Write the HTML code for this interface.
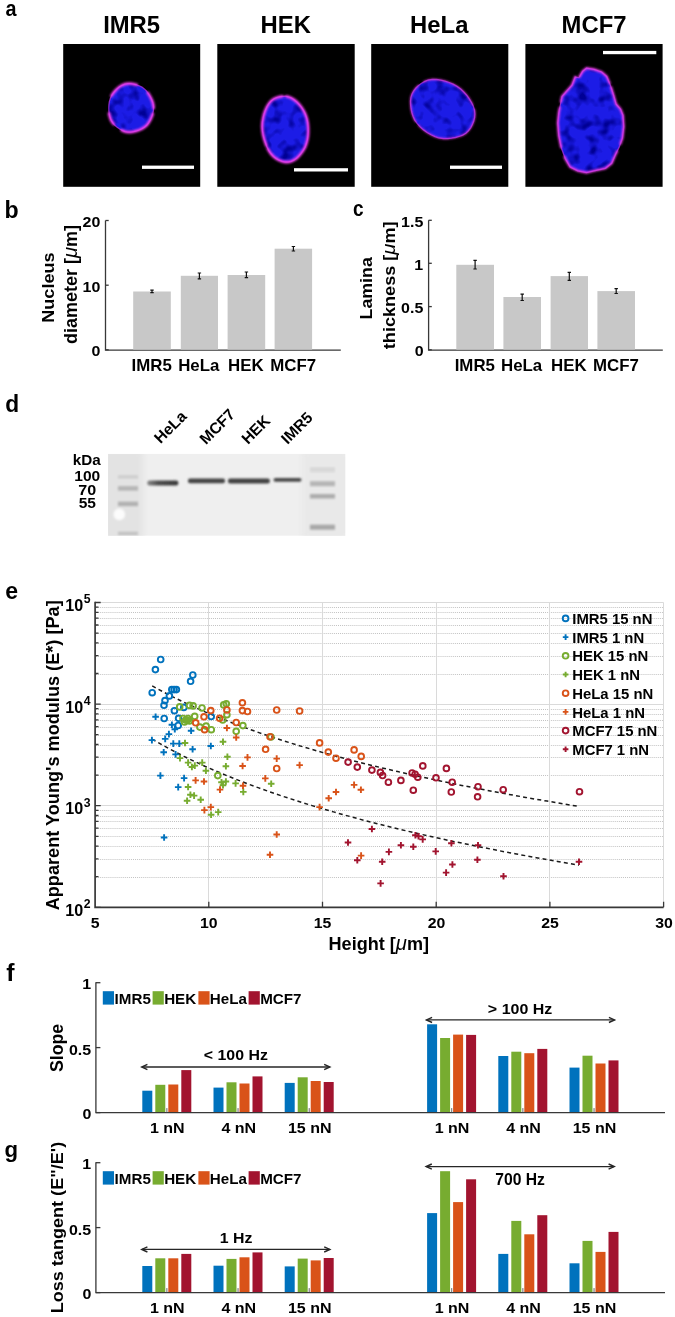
<!DOCTYPE html>
<html><head><meta charset="utf-8"><style>
html,body{margin:0;padding:0;background:#fff;}
svg{display:block;will-change:transform;}
text{font-family:"Liberation Sans",sans-serif;fill:#000;}
</style></head><body>
<svg width="675" height="1317" viewBox="0 0 675 1317">
<defs>
<filter id="soft" x="-20%" y="-20%" width="140%" height="140%"><feGaussianBlur stdDeviation="0.6"/></filter><filter id="soft2" x="-20%" y="-20%" width="140%" height="140%"><feGaussianBlur stdDeviation="0.8"/></filter>
<filter id="blur1" x="-50%" y="-200%" width="200%" height="500%"><feGaussianBlur stdDeviation="1.3"/></filter>
<filter id="blur2" x="-50%" y="-50%" width="200%" height="200%"><feGaussianBlur stdDeviation="3"/></filter>
<filter id="mottle0" x="0" y="0" width="100%" height="100%"><feTurbulence type="fractalNoise" baseFrequency="0.085" numOctaves="2" seed="3"/><feColorMatrix type="matrix" values="0 0 0 0 0.0  0 0 0 0 0.0  0 0 0 0 0.3  -3.4 0 0 0 1.8"/></filter><filter id="mottle1" x="0" y="0" width="100%" height="100%"><feTurbulence type="fractalNoise" baseFrequency="0.085" numOctaves="2" seed="10"/><feColorMatrix type="matrix" values="0 0 0 0 0.0  0 0 0 0 0.0  0 0 0 0 0.3  -3.4 0 0 0 1.8"/></filter><filter id="mottle2" x="0" y="0" width="100%" height="100%"><feTurbulence type="fractalNoise" baseFrequency="0.085" numOctaves="2" seed="17"/><feColorMatrix type="matrix" values="0 0 0 0 0.0  0 0 0 0 0.0  0 0 0 0 0.3  -3.4 0 0 0 1.8"/></filter><filter id="mottle3" x="0" y="0" width="100%" height="100%"><feTurbulence type="fractalNoise" baseFrequency="0.085" numOctaves="2" seed="24"/><feColorMatrix type="matrix" values="0 0 0 0 0.0  0 0 0 0 0.0  0 0 0 0 0.3  -3.4 0 0 0 1.8"/></filter>
</defs>
<rect width="675" height="1317" fill="#fff"/>
<text transform="translate(5.61,15.58) scale(0.893,1)" font-size="22.18" font-weight="bold">a</text>
<rect x="63.2" y="44" width="137.0" height="142.8" fill="#000"/>
<text transform="translate(103.13,33.06) scale(1.012,1)" font-size="23.57" font-weight="bold">IMR5</text>
<rect x="217.3" y="44" width="137.4" height="142.8" fill="#000"/>
<text transform="translate(260.53,33.06) scale(1.012,1)" font-size="23.57" font-weight="bold">HEK</text>
<rect x="371.2" y="44" width="137.1" height="142.8" fill="#000"/>
<text transform="translate(410.11,33.06) scale(1.012,1)" font-size="23.57" font-weight="bold">HeLa</text>
<rect x="525.4" y="44" width="137.2" height="142.8" fill="#000"/>
<text transform="translate(561.62,33.30) scale(1.012,1)" font-size="23.57" font-weight="bold">MCF7</text>
<clipPath id="nc0"><path d="M153.6,108.0 L153.3,111.2 L152.6,114.3 L151.5,117.3 L150.2,120.1 L148.6,122.8 L146.7,125.2 L144.4,127.2 L141.9,128.8 L139.2,130.0 L136.5,130.9 L133.7,131.7 L130.8,132.1 L127.9,132.1 L125.0,131.6 L122.2,130.5 L119.6,129.0 L117.1,127.3 L114.8,125.3 L112.8,122.9 L111.1,120.3 L110.0,117.3 L109.2,114.2 L108.9,111.1 L108.8,108.0 L108.9,104.9 L109.3,101.8 L110.2,98.8 L111.4,95.9 L113.1,93.3 L115.0,91.0 L117.2,88.8 L119.5,86.8 L122.1,85.3 L124.9,84.2 L127.8,83.7 L130.8,83.7 L133.7,84.1 L136.6,84.8 L139.3,85.8 L142.0,87.1 L144.4,88.9 L146.5,91.0 L148.3,93.5 L149.9,96.1 L151.3,98.8 L152.5,101.7 L153.3,104.8Z"/></clipPath>
<path d="M153.6,108.0 L153.3,111.2 L152.6,114.3 L151.5,117.3 L150.2,120.1 L148.6,122.8 L146.7,125.2 L144.4,127.2 L141.9,128.8 L139.2,130.0 L136.5,130.9 L133.7,131.7 L130.8,132.1 L127.9,132.1 L125.0,131.6 L122.2,130.5 L119.6,129.0 L117.1,127.3 L114.8,125.3 L112.8,122.9 L111.1,120.3 L110.0,117.3 L109.2,114.2 L108.9,111.1 L108.8,108.0 L108.9,104.9 L109.3,101.8 L110.2,98.8 L111.4,95.9 L113.1,93.3 L115.0,91.0 L117.2,88.8 L119.5,86.8 L122.1,85.3 L124.9,84.2 L127.8,83.7 L130.8,83.7 L133.7,84.1 L136.6,84.8 L139.3,85.8 L142.0,87.1 L144.4,88.9 L146.5,91.0 L148.3,93.5 L149.9,96.1 L151.3,98.8 L152.5,101.7 L153.3,104.8Z" fill="#1a1ae6" filter="url(#soft)"/>
<g clip-path="url(#nc0)" filter="url(#soft)"><rect x="50" y="40" width="620" height="150" filter="url(#mottle0)"/></g>
<path d="M153.6,108.0 L153.3,111.2 L152.6,114.3 L151.5,117.3 L150.2,120.1 L148.6,122.8 L146.7,125.2 L144.4,127.2 L141.9,128.8 L139.2,130.0 L136.5,130.9 L133.7,131.7 L130.8,132.1 L127.9,132.1 L125.0,131.6 L122.2,130.5 L119.6,129.0 L117.1,127.3 L114.8,125.3 L112.8,122.9 L111.1,120.3 L110.0,117.3 L109.2,114.2 L108.9,111.1 L108.8,108.0 L108.9,104.9 L109.3,101.8 L110.2,98.8 L111.4,95.9 L113.1,93.3 L115.0,91.0 L117.2,88.8 L119.5,86.8 L122.1,85.3 L124.9,84.2 L127.8,83.7 L130.8,83.7 L133.7,84.1 L136.6,84.8 L139.3,85.8 L142.0,87.1 L144.4,88.9 L146.5,91.0 L148.3,93.5 L149.9,96.1 L151.3,98.8 L152.5,101.7 L153.3,104.8Z" fill="none" stroke="#b030e0" stroke-width="1.3" opacity="0.75" filter="url(#soft)"/>
<path d="M153.6,108.0 L153.3,111.2 L152.6,114.3 L151.5,117.3 L150.2,120.1 L148.6,122.8 L146.7,125.2 L144.4,127.2 L141.9,128.8 L139.2,130.0 L136.5,130.9 L133.7,131.7 L130.8,132.1 L127.9,132.1 L125.0,131.6 L122.2,130.5 L119.6,129.0 L117.1,127.3 L114.8,125.3 L112.8,122.9 L111.1,120.3 L110.0,117.3 L109.2,114.2 L108.9,111.1 L108.8,108.0 L108.9,104.9 L109.3,101.8 L110.2,98.8 L111.4,95.9 L113.1,93.3 L115.0,91.0 L117.2,88.8 L119.5,86.8 L122.1,85.3 L124.9,84.2 L127.8,83.7 L130.8,83.7 L133.7,84.1 L136.6,84.8 L139.3,85.8 L142.0,87.1 L144.4,88.9 L146.5,91.0 L148.3,93.5 L149.9,96.1 L151.3,98.8 L152.5,101.7 L153.3,104.8Z" fill="none" stroke="#f040f0" stroke-width="2.8" stroke-dasharray="0,6,40,10,12,18,30,14,20" stroke-linecap="round" filter="url(#soft2)"/>
<clipPath id="nc1"><path d="M308.1,126.9 L308.2,131.2 L308.0,135.5 L307.4,139.7 L306.4,143.6 L305.0,147.3 L303.2,150.5 L301.1,153.4 L298.9,156.0 L296.5,158.3 L293.9,160.1 L291.1,161.4 L288.1,162.0 L285.1,162.0 L282.1,161.3 L279.1,160.2 L276.2,158.6 L273.5,156.5 L271.0,153.8 L268.8,150.6 L267.0,147.0 L265.5,143.1 L264.2,139.2 L263.2,135.1 L262.5,130.9 L262.2,126.6 L262.4,122.3 L263.1,118.2 L264.0,114.2 L265.3,110.4 L266.9,106.9 L268.8,103.7 L271.1,101.0 L273.7,99.0 L276.5,97.7 L279.4,96.8 L282.3,96.3 L285.3,96.2 L288.3,96.8 L291.2,97.9 L294.0,99.7 L296.7,101.9 L299.2,104.5 L301.5,107.4 L303.6,110.6 L305.4,114.3 L306.8,118.3 L307.7,122.6Z"/></clipPath>
<path d="M308.1,126.9 L308.2,131.2 L308.0,135.5 L307.4,139.7 L306.4,143.6 L305.0,147.3 L303.2,150.5 L301.1,153.4 L298.9,156.0 L296.5,158.3 L293.9,160.1 L291.1,161.4 L288.1,162.0 L285.1,162.0 L282.1,161.3 L279.1,160.2 L276.2,158.6 L273.5,156.5 L271.0,153.8 L268.8,150.6 L267.0,147.0 L265.5,143.1 L264.2,139.2 L263.2,135.1 L262.5,130.9 L262.2,126.6 L262.4,122.3 L263.1,118.2 L264.0,114.2 L265.3,110.4 L266.9,106.9 L268.8,103.7 L271.1,101.0 L273.7,99.0 L276.5,97.7 L279.4,96.8 L282.3,96.3 L285.3,96.2 L288.3,96.8 L291.2,97.9 L294.0,99.7 L296.7,101.9 L299.2,104.5 L301.5,107.4 L303.6,110.6 L305.4,114.3 L306.8,118.3 L307.7,122.6Z" fill="#1a1ae6" filter="url(#soft)"/>
<g clip-path="url(#nc1)" filter="url(#soft)"><rect x="50" y="40" width="620" height="150" filter="url(#mottle1)"/></g>
<path d="M308.1,126.9 L308.2,131.2 L308.0,135.5 L307.4,139.7 L306.4,143.6 L305.0,147.3 L303.2,150.5 L301.1,153.4 L298.9,156.0 L296.5,158.3 L293.9,160.1 L291.1,161.4 L288.1,162.0 L285.1,162.0 L282.1,161.3 L279.1,160.2 L276.2,158.6 L273.5,156.5 L271.0,153.8 L268.8,150.6 L267.0,147.0 L265.5,143.1 L264.2,139.2 L263.2,135.1 L262.5,130.9 L262.2,126.6 L262.4,122.3 L263.1,118.2 L264.0,114.2 L265.3,110.4 L266.9,106.9 L268.8,103.7 L271.1,101.0 L273.7,99.0 L276.5,97.7 L279.4,96.8 L282.3,96.3 L285.3,96.2 L288.3,96.8 L291.2,97.9 L294.0,99.7 L296.7,101.9 L299.2,104.5 L301.5,107.4 L303.6,110.6 L305.4,114.3 L306.8,118.3 L307.7,122.6Z" fill="none" stroke="#b030e0" stroke-width="1.3" opacity="0.75" filter="url(#soft)"/>
<path d="M308.1,126.9 L308.2,131.2 L308.0,135.5 L307.4,139.7 L306.4,143.6 L305.0,147.3 L303.2,150.5 L301.1,153.4 L298.9,156.0 L296.5,158.3 L293.9,160.1 L291.1,161.4 L288.1,162.0 L285.1,162.0 L282.1,161.3 L279.1,160.2 L276.2,158.6 L273.5,156.5 L271.0,153.8 L268.8,150.6 L267.0,147.0 L265.5,143.1 L264.2,139.2 L263.2,135.1 L262.5,130.9 L262.2,126.6 L262.4,122.3 L263.1,118.2 L264.0,114.2 L265.3,110.4 L266.9,106.9 L268.8,103.7 L271.1,101.0 L273.7,99.0 L276.5,97.7 L279.4,96.8 L282.3,96.3 L285.3,96.2 L288.3,96.8 L291.2,97.9 L294.0,99.7 L296.7,101.9 L299.2,104.5 L301.5,107.4 L303.6,110.6 L305.4,114.3 L306.8,118.3 L307.7,122.6Z" fill="none" stroke="#f040f0" stroke-width="2.8" stroke-dasharray="70,3,60,4" stroke-linecap="round" filter="url(#soft2)"/>
<clipPath id="nc2"><path d="M470.7,127.8 L468.5,130.7 L465.9,133.2 L462.7,135.1 L459.2,136.5 L455.5,137.5 L451.6,138.2 L447.6,138.7 L443.5,138.6 L439.2,138.0 L435.0,136.7 L431.0,134.8 L427.1,132.5 L423.5,129.9 L420.1,126.9 L417.2,123.7 L414.7,120.1 L413.0,116.3 L411.8,112.5 L411.0,108.7 L410.6,104.9 L410.5,101.1 L410.9,97.4 L412.0,93.9 L413.7,90.8 L415.9,88.0 L418.5,85.4 L421.5,83.2 L424.8,81.4 L428.4,80.0 L432.5,79.4 L436.7,79.5 L440.9,80.2 L445.1,81.2 L449.2,82.5 L453.2,84.2 L457.1,86.4 L460.7,89.0 L463.8,92.0 L466.7,95.2 L469.2,98.7 L471.4,102.3 L473.3,106.1 L474.5,110.0 L474.9,113.9 L474.6,117.7 L473.7,121.3 L472.4,124.6Z"/></clipPath>
<path d="M470.7,127.8 L468.5,130.7 L465.9,133.2 L462.7,135.1 L459.2,136.5 L455.5,137.5 L451.6,138.2 L447.6,138.7 L443.5,138.6 L439.2,138.0 L435.0,136.7 L431.0,134.8 L427.1,132.5 L423.5,129.9 L420.1,126.9 L417.2,123.7 L414.7,120.1 L413.0,116.3 L411.8,112.5 L411.0,108.7 L410.6,104.9 L410.5,101.1 L410.9,97.4 L412.0,93.9 L413.7,90.8 L415.9,88.0 L418.5,85.4 L421.5,83.2 L424.8,81.4 L428.4,80.0 L432.5,79.4 L436.7,79.5 L440.9,80.2 L445.1,81.2 L449.2,82.5 L453.2,84.2 L457.1,86.4 L460.7,89.0 L463.8,92.0 L466.7,95.2 L469.2,98.7 L471.4,102.3 L473.3,106.1 L474.5,110.0 L474.9,113.9 L474.6,117.7 L473.7,121.3 L472.4,124.6Z" fill="#1a1ae6" filter="url(#soft)"/>
<g clip-path="url(#nc2)" filter="url(#soft)"><rect x="50" y="40" width="620" height="150" filter="url(#mottle2)"/></g>
<path d="M470.7,127.8 L468.5,130.7 L465.9,133.2 L462.7,135.1 L459.2,136.5 L455.5,137.5 L451.6,138.2 L447.6,138.7 L443.5,138.6 L439.2,138.0 L435.0,136.7 L431.0,134.8 L427.1,132.5 L423.5,129.9 L420.1,126.9 L417.2,123.7 L414.7,120.1 L413.0,116.3 L411.8,112.5 L411.0,108.7 L410.6,104.9 L410.5,101.1 L410.9,97.4 L412.0,93.9 L413.7,90.8 L415.9,88.0 L418.5,85.4 L421.5,83.2 L424.8,81.4 L428.4,80.0 L432.5,79.4 L436.7,79.5 L440.9,80.2 L445.1,81.2 L449.2,82.5 L453.2,84.2 L457.1,86.4 L460.7,89.0 L463.8,92.0 L466.7,95.2 L469.2,98.7 L471.4,102.3 L473.3,106.1 L474.5,110.0 L474.9,113.9 L474.6,117.7 L473.7,121.3 L472.4,124.6Z" fill="none" stroke="#b030e0" stroke-width="1.3" opacity="0.75" filter="url(#soft)"/>
<path d="M470.7,127.8 L468.5,130.7 L465.9,133.2 L462.7,135.1 L459.2,136.5 L455.5,137.5 L451.6,138.2 L447.6,138.7 L443.5,138.6 L439.2,138.0 L435.0,136.7 L431.0,134.8 L427.1,132.5 L423.5,129.9 L420.1,126.9 L417.2,123.7 L414.7,120.1 L413.0,116.3 L411.8,112.5 L411.0,108.7 L410.6,104.9 L410.5,101.1 L410.9,97.4 L412.0,93.9 L413.7,90.8 L415.9,88.0 L418.5,85.4 L421.5,83.2 L424.8,81.4 L428.4,80.0 L432.5,79.4 L436.7,79.5 L440.9,80.2 L445.1,81.2 L449.2,82.5 L453.2,84.2 L457.1,86.4 L460.7,89.0 L463.8,92.0 L466.7,95.2 L469.2,98.7 L471.4,102.3 L473.3,106.1 L474.5,110.0 L474.9,113.9 L474.6,117.7 L473.7,121.3 L472.4,124.6Z" fill="none" stroke="#f040f0" stroke-width="1.2" stroke-dasharray="60,4,40,6" stroke-linecap="round" filter="url(#soft2)"/>
<clipPath id="nc3"><path d="M586.5,68.2 L594.1,69.4 L601.6,72 L606.7,76.4 L610.4,85.2 L613.6,95.3 L616.1,104.1 L620.5,109.1 L623,115.4 L623.7,126.7 L622.4,138.1 L619.3,146.9 L615.5,154.4 L611.7,163.3 L605.4,168.3 L594.1,170.8 L586.5,172.7 L577.7,170.8 L570.1,167 L565.1,158.2 L561.3,148.1 L558.8,135.6 L557.8,122.9 L558.8,112.9 L560.7,102.8 L562,96.5 L566.4,91.5 L572,85.2 L575.2,77 L579,77.6 L582.7,71.3Z"/></clipPath>
<path d="M586.5,68.2 L594.1,69.4 L601.6,72 L606.7,76.4 L610.4,85.2 L613.6,95.3 L616.1,104.1 L620.5,109.1 L623,115.4 L623.7,126.7 L622.4,138.1 L619.3,146.9 L615.5,154.4 L611.7,163.3 L605.4,168.3 L594.1,170.8 L586.5,172.7 L577.7,170.8 L570.1,167 L565.1,158.2 L561.3,148.1 L558.8,135.6 L557.8,122.9 L558.8,112.9 L560.7,102.8 L562,96.5 L566.4,91.5 L572,85.2 L575.2,77 L579,77.6 L582.7,71.3Z" fill="#1a1ae6" filter="url(#soft)"/>
<g clip-path="url(#nc3)" filter="url(#soft)"><rect x="50" y="40" width="620" height="150" filter="url(#mottle3)"/></g>
<path d="M586.5,68.2 L594.1,69.4 L601.6,72 L606.7,76.4 L610.4,85.2 L613.6,95.3 L616.1,104.1 L620.5,109.1 L623,115.4 L623.7,126.7 L622.4,138.1 L619.3,146.9 L615.5,154.4 L611.7,163.3 L605.4,168.3 L594.1,170.8 L586.5,172.7 L577.7,170.8 L570.1,167 L565.1,158.2 L561.3,148.1 L558.8,135.6 L557.8,122.9 L558.8,112.9 L560.7,102.8 L562,96.5 L566.4,91.5 L572,85.2 L575.2,77 L579,77.6 L582.7,71.3Z" fill="none" stroke="#b030e0" stroke-width="1.3" opacity="0.75" filter="url(#soft)"/>
<path d="M586.5,68.2 L594.1,69.4 L601.6,72 L606.7,76.4 L610.4,85.2 L613.6,95.3 L616.1,104.1 L620.5,109.1 L623,115.4 L623.7,126.7 L622.4,138.1 L619.3,146.9 L615.5,154.4 L611.7,163.3 L605.4,168.3 L594.1,170.8 L586.5,172.7 L577.7,170.8 L570.1,167 L565.1,158.2 L561.3,148.1 L558.8,135.6 L557.8,122.9 L558.8,112.9 L560.7,102.8 L562,96.5 L566.4,91.5 L572,85.2 L575.2,77 L579,77.6 L582.7,71.3Z" fill="none" stroke="#f040f0" stroke-width="2.2" stroke-dasharray="30,4,60,8,70,10,40,6" stroke-linecap="round" filter="url(#soft2)"/>
<rect x="142" y="165.6" width="52" height="3.3" fill="#fff"/>
<rect x="294" y="168.2" width="54" height="3.3" fill="#fff"/>
<rect x="450" y="165.6" width="52" height="3.3" fill="#fff"/>
<rect x="603" y="50.9" width="53.299999999999955" height="3.3" fill="#fff"/>
<text transform="translate(4.58,217.80)" font-size="23.15" font-weight="bold">b</text>
<text transform="translate(352.94,215.78) scale(0.856,1)" font-size="22.18" font-weight="bold">c</text>
<path d="M105.5,220.5V350.1H340.8" stroke="#383838" stroke-width="1.3" fill="none"/>
<path d="M105.5,349.8h3.2" stroke="#383838" stroke-width="1.3"/>
<text transform="translate(91.55,356.35) scale(1.051,1)" font-size="15.21" font-weight="bold">0</text>
<path d="M105.5,285.2h3.2" stroke="#383838" stroke-width="1.3"/>
<text transform="translate(82.60,291.75) scale(1.051,1)" font-size="15.21" font-weight="bold">10</text>
<path d="M105.5,220.5h3.2" stroke="#383838" stroke-width="1.3"/>
<text transform="translate(82.60,227.05) scale(1.051,1)" font-size="15.21" font-weight="bold">20</text>
<rect x="133.2" y="291.5" width="37.6" height="58.1" fill="#c8c8c8"/>
<path d="M152.0,290.2V292.6M150.3,290.2h3.4M150.3,292.6h3.4" stroke="#111" stroke-width="1.2" fill="none"/>
<text transform="translate(131.52,370.54) scale(1.063,1)" font-size="15.86" font-weight="bold">IMR5</text>
<rect x="180.8" y="275.8" width="37.2" height="73.8" fill="#c8c8c8"/>
<path d="M199.4,273.0V278.8M197.7,273.0h3.4M197.7,278.8h3.4" stroke="#111" stroke-width="1.2" fill="none"/>
<text transform="translate(178.16,370.54) scale(1.063,1)" font-size="15.86" font-weight="bold">HeLa</text>
<rect x="227.6" y="275.0" width="37.6" height="74.6" fill="#c8c8c8"/>
<path d="M246.4,272.0V277.6M244.7,272.0h3.4M244.7,277.6h3.4" stroke="#111" stroke-width="1.2" fill="none"/>
<text transform="translate(228.11,370.54) scale(1.063,1)" font-size="15.86" font-weight="bold">HEK</text>
<rect x="274.6" y="248.7" width="37.5" height="100.9" fill="#c8c8c8"/>
<path d="M293.4,246.5V251.0M291.7,246.5h3.4M291.7,251.0h3.4" stroke="#111" stroke-width="1.2" fill="none"/>
<text transform="translate(270.17,370.70) scale(1.063,1)" font-size="15.86" font-weight="bold">MCF7</text>
<path d="M428.6,220.3V350.1H662.8" stroke="#383838" stroke-width="1.3" fill="none"/>
<path d="M428.6,349.8h3.2" stroke="#383838" stroke-width="1.3"/>
<text transform="translate(414.65,356.35) scale(1.051,1)" font-size="15.21" font-weight="bold">0</text>
<path d="M428.6,306.6h3.2" stroke="#383838" stroke-width="1.3"/>
<text transform="translate(401.06,313.15) scale(1.051,1)" font-size="15.21" font-weight="bold">0.5</text>
<path d="M428.6,263.3h3.2" stroke="#383838" stroke-width="1.3"/>
<text transform="translate(414.33,269.70) scale(1.051,1)" font-size="15.21" font-weight="bold">1</text>
<path d="M428.6,220.3h3.2" stroke="#383838" stroke-width="1.3"/>
<text transform="translate(401.06,226.70) scale(1.051,1)" font-size="15.21" font-weight="bold">1.5</text>
<rect x="456.3" y="264.8" width="37.7" height="84.8" fill="#c8c8c8"/>
<path d="M475.1,260.3V269.0M473.4,260.3h3.4M473.4,269.0h3.4" stroke="#111" stroke-width="1.2" fill="none"/>
<text transform="translate(454.67,370.54) scale(1.063,1)" font-size="15.86" font-weight="bold">IMR5</text>
<rect x="503.4" y="297.0" width="37.6" height="52.6" fill="#c8c8c8"/>
<path d="M522.2,294.2V300.5M520.5,294.2h3.4M520.5,300.5h3.4" stroke="#111" stroke-width="1.2" fill="none"/>
<text transform="translate(500.96,370.54) scale(1.063,1)" font-size="15.86" font-weight="bold">HeLa</text>
<rect x="550.6" y="276.1" width="37.4" height="73.5" fill="#c8c8c8"/>
<path d="M569.3,272.3V280.3M567.6,272.3h3.4M567.6,280.3h3.4" stroke="#111" stroke-width="1.2" fill="none"/>
<text transform="translate(551.01,370.54) scale(1.063,1)" font-size="15.86" font-weight="bold">HEK</text>
<rect x="597.4" y="291.1" width="37.6" height="58.5" fill="#c8c8c8"/>
<path d="M616.2,288.6V293.5M614.5,288.6h3.4M614.5,293.5h3.4" stroke="#111" stroke-width="1.2" fill="none"/>
<text transform="translate(593.02,370.70) scale(1.063,1)" font-size="15.86" font-weight="bold">MCF7</text>
<text transform="translate(54.03,322.87) rotate(-90) scale(1.074,1)" font-size="16.89" font-weight="bold">Nucleus</text>
<text transform="translate(77.21,344.02) rotate(-90) scale(1.026,1)" font-size="17.55" font-weight="bold">diameter [<tspan font-style="italic" font-weight="normal" font-size="1.12em">&#956;</tspan>m]</text>
<text transform="translate(372.43,319.45) rotate(-90) scale(1.070,1)" font-size="16.62" font-weight="bold">Lamina</text>
<text transform="translate(395.16,349.18) rotate(-90) scale(1.106,1)" font-size="16.38" font-weight="bold">thickness [<tspan font-style="italic" font-weight="normal" font-size="1.12em">&#956;</tspan>m]</text>
<text transform="translate(5.29,411.80) scale(0.973,1)" font-size="23.42" font-weight="bold">d</text>
<rect x="108.1" y="453.9" width="237.1" height="81.8" fill="#efefef"/>
<g clip-path="url(#blotclip)">
<rect x="100" y="450" width="43" height="90" fill="#e3e3e3" filter="url(#blur2)"/>
<rect x="302" y="450" width="48" height="90" fill="#e9e9e9" filter="url(#blur2)"/>
<rect x="118" y="475.4" width="20" height="3" fill="#000" opacity="0.1" filter="url(#blur1)"/>
<rect x="118" y="486.15" width="20" height="4.5" fill="#000" opacity="0.2" filter="url(#blur1)"/>
<rect x="118" y="501.65" width="20" height="4.5" fill="#000" opacity="0.22" filter="url(#blur1)"/>
<rect x="118" y="531.75" width="20" height="3.5" fill="#000" opacity="0.14" filter="url(#blur1)"/>
<circle cx="119.3" cy="514.4" r="5.8" fill="#fcfcfc" filter="url(#blur1)"/>
<rect x="310" y="467.6" width="25" height="2.0" fill="#000" opacity="0.1" filter="url(#blur1)"/>
<rect x="310" y="470.2" width="25" height="2.0" fill="#000" opacity="0.08" filter="url(#blur1)"/>
<rect x="310" y="481.2" width="25" height="5" fill="#000" opacity="0.22" filter="url(#blur1)"/>
<rect x="310" y="494.05" width="25" height="4.5" fill="#000" opacity="0.26" filter="url(#blur1)"/>
<rect x="310" y="524.7" width="25" height="5" fill="#000" opacity="0.28" filter="url(#blur1)"/>
<linearGradient id="bandg" x1="0" x2="1" y1="0" y2="0"><stop offset="0" stop-color="#888"/><stop offset="0.35" stop-color="#4a4a4a"/><stop offset="1" stop-color="#3a3a3a"/></linearGradient>
<rect x="147.3" y="480.4" width="31.0" height="5.0" rx="2" fill="url(#bandg)" filter="url(#blur1)"/>
<rect x="188.0" y="478.6" width="37.0" height="4.6" rx="2" fill="#444" filter="url(#blur1)"/>
<rect x="228.0" y="478.6" width="41.8" height="4.8" rx="2" fill="#424242" filter="url(#blur1)"/>
<rect x="273.5" y="477.9" width="28.0" height="3.8" rx="2" fill="#4a4a4a" filter="url(#blur1)"/>
</g>
<clipPath id="blotclip"><rect x="108.1" y="453.9" width="237.1" height="81.8"/></clipPath>
<text transform="translate(72.83,465.35) scale(0.990,1)" font-size="15.41" font-weight="bold">kDa</text>
<text transform="translate(74.27,481.25) scale(1.003,1)" font-size="15.49" font-weight="bold">100</text>
<text transform="translate(78.26,494.55) scale(1.080,1)" font-size="14.93" font-weight="bold">70</text>
<text transform="translate(78.73,508.25) scale(1.045,1)" font-size="14.86" font-weight="bold">55</text>
<text transform="translate(160.59,444.26) rotate(-45)" font-size="15.6" font-weight="bold">HeLa</text>
<text transform="translate(205.94,445.30) rotate(-45)" font-size="15.6" font-weight="bold">MCF7</text>
<text transform="translate(247.89,444.95) rotate(-45)" font-size="15.6" font-weight="bold">HEK</text>
<text transform="translate(287.41,444.93) rotate(-45)" font-size="15.6" font-weight="bold">IMR5</text>
<text transform="translate(5.28,598.87) scale(0.986,1)" font-size="23.45" font-weight="bold">e</text>
<path d="M96.1,877.5H663.6M96.1,859.5H663.6M96.1,846.5H663.6M96.1,836.5H663.6M96.1,828.5H663.6M96.1,821.5H663.6M96.1,816.5H663.6M96.1,810.5H663.6M96.1,775.5H663.6M96.1,757.5H663.6M96.1,745.5H663.6M96.1,735.5H663.6M96.1,727.5H663.6M96.1,720.5H663.6M96.1,714.5H663.6M96.1,709.5H663.6M96.1,674.5H663.6M96.1,656.5H663.6M96.1,643.5H663.6M96.1,633.5H663.6M96.1,625.5H663.6M96.1,618.5H663.6M96.1,612.5H663.6M96.1,607.5H663.6" stroke="#c2c2c2" stroke-width="1" stroke-dasharray="1,1.05" fill="none"/>
<path d="M208.5,602.5V907.3M322.5,602.5V907.3M436.5,602.5V907.3M549.5,602.5V907.3M663.5,602.5V907.3M95.1,805.5H663.6M95.1,704.5H663.6M95.1,602.5H663.6" stroke="#dadada" stroke-width="1" fill="none"/>
<path d="M95.1,601.7V907.3H663.6" stroke="#383838" stroke-width="1.7" fill="none"/>
<path d="M95.1,907.3h5.6M95.1,876.7h3.4M95.1,858.8h3.4M95.1,846.1h3.4M95.1,836.3h3.4M95.1,828.2h3.4M95.1,821.4h3.4M95.1,815.5h3.4M95.1,810.3h3.4M95.1,805.7h5.6M95.1,775.1h3.4M95.1,757.2h3.4M95.1,744.5h3.4M95.1,734.7h3.4M95.1,726.6h3.4M95.1,719.8h3.4M95.1,713.9h3.4M95.1,708.7h3.4M95.1,704.1h5.6M95.1,673.5h3.4M95.1,655.6h3.4M95.1,642.9h3.4M95.1,633.1h3.4M95.1,625.0h3.4M95.1,618.2h3.4M95.1,612.3h3.4M95.1,607.1h3.4M95.1,602.5h5.6M208.8,907.3v-5.6M322.5,907.3v-5.6M436.2,907.3v-5.6M549.9,907.3v-5.6M663.6,907.3v-5.6" stroke="#383838" stroke-width="1.3" fill="none"/>
<text transform="translate(65.23,916.09) scale(0.996,1)" font-size="16.20" font-weight="bold">10</text>
<text transform="translate(83.63,908.23) scale(0.951,1)" font-size="12.90" font-weight="bold">2</text>
<text transform="translate(65.23,814.49) scale(0.996,1)" font-size="16.20" font-weight="bold">10</text>
<text transform="translate(83.75,806.63) scale(0.951,1)" font-size="12.90" font-weight="bold">3</text>
<text transform="translate(65.23,712.89) scale(0.996,1)" font-size="16.20" font-weight="bold">10</text>
<text transform="translate(83.75,704.90) scale(0.951,1)" font-size="12.90" font-weight="bold">4</text>
<text transform="translate(65.23,611.29) scale(0.996,1)" font-size="16.20" font-weight="bold">10</text>
<text transform="translate(83.63,603.30) scale(0.951,1)" font-size="12.90" font-weight="bold">5</text>
<text transform="translate(90.86,927.91) scale(1.092,1)" font-size="14.51" font-weight="bold">5</text>
<text transform="translate(200.05,928.05) scale(1.092,1)" font-size="14.51" font-weight="bold">10</text>
<text transform="translate(313.67,927.91) scale(1.092,1)" font-size="14.51" font-weight="bold">15</text>
<text transform="translate(427.69,928.05) scale(1.092,1)" font-size="14.51" font-weight="bold">20</text>
<text transform="translate(541.31,928.05) scale(1.092,1)" font-size="14.51" font-weight="bold">25</text>
<text transform="translate(655.17,928.05) scale(1.092,1)" font-size="14.51" font-weight="bold">30</text>
<text transform="translate(328.53,950.31) scale(1.031,1)" font-size="17.55" font-weight="bold">Height [<tspan font-style="italic" font-weight="normal" font-size="1.12em">&#956;</tspan>m]</text>
<text transform="translate(59.41,910.34) rotate(-90) scale(1.034,1)" font-size="17.55" font-weight="bold">Apparent Young's modulus (E*) [Pa]</text>
<path d="M152.2,685.9 L162.9,691.7 L173.5,697.2 L184.2,702.4 L194.9,707.4 L205.6,712.1 L216.2,716.5 L226.9,720.8 L237.6,724.9 L248.3,728.8 L258.9,732.6 L269.6,736.2 L280.3,739.7 L290.9,743.1 L301.6,746.4 L312.3,749.5 L323.0,752.6 L333.6,755.5 L344.3,758.4 L355.0,761.2 L365.6,763.9 L376.3,766.5 L387.0,769.1 L397.7,771.6 L408.3,774.0 L419.0,776.4 L429.7,778.7 L440.4,781.0 L451.0,783.2 L461.7,785.4 L472.4,787.5 L483.0,789.5 L493.7,791.6 L504.4,793.6 L515.1,795.5 L525.7,797.4 L536.4,799.3 L547.1,801.1 L557.8,802.9 L568.4,804.7 L579.1,806.4" stroke="#1a1a1a" stroke-width="1.5" stroke-dasharray="4,3.2" fill="none"/>
<path d="M152.0,739.1 L162.7,745.2 L173.3,750.9 L184.0,756.4 L194.7,761.5 L205.4,766.5 L216.1,771.1 L226.7,775.6 L237.4,779.9 L248.1,784.0 L258.8,787.9 L269.4,791.7 L280.1,795.4 L290.8,798.9 L301.4,802.3 L312.1,805.6 L322.8,808.8 L333.5,811.9 L344.1,814.9 L354.8,817.8 L365.5,820.7 L376.2,823.4 L386.9,826.1 L397.5,828.7 L408.2,831.3 L418.9,833.8 L429.6,836.2 L440.2,838.6 L450.9,840.9 L461.6,843.1 L472.2,845.3 L482.9,847.5 L493.6,849.6 L504.3,851.7 L515.0,853.7 L525.6,855.7 L536.3,857.7 L547.0,859.6 L557.6,861.5 L568.3,863.3 L579.0,865.1" stroke="#1a1a1a" stroke-width="1.5" stroke-dasharray="4,3.2" fill="none"/>
<g fill="none" stroke="#0072BD" stroke-width="1.9"><circle cx="160.7" cy="659.5" r="2.85"/><circle cx="155.4" cy="669.6" r="2.85"/><circle cx="192.8" cy="675.0" r="2.85"/><circle cx="190.6" cy="681.3" r="2.85"/><circle cx="152.2" cy="692.7" r="2.85"/><circle cx="171.8" cy="689.6" r="2.85"/><circle cx="174.1" cy="689.6" r="2.85"/><circle cx="176.4" cy="689.6" r="2.85"/><circle cx="169.4" cy="695.9" r="2.85"/><circle cx="165.0" cy="700.6" r="2.85"/><circle cx="164.0" cy="705.3" r="2.85"/><circle cx="174.4" cy="710.7" r="2.85"/><circle cx="164.2" cy="718.5" r="2.85"/><circle cx="178.6" cy="718.3" r="2.85"/><circle cx="178.2" cy="725.5" r="2.85"/><circle cx="211.2" cy="716.5" r="2.85"/><circle cx="183.8" cy="707.4" r="2.85"/></g>
<path d="M152.3,716.7h6.6M155.6,713.4v6.6M168.6,724.8h6.6M171.9,721.5v6.6M171.5,729.3h6.6M174.8,726.0v6.6M187.8,730.7h6.6M191.1,727.4v6.6M165.6,734.1h6.6M168.9,730.8v6.6M161.9,738.9h6.6M165.2,735.6v6.6M148.6,740.1h6.6M151.9,736.8v6.6M170.0,743.6h6.6M173.3,740.3v6.6M176.0,743.6h6.6M179.3,740.3v6.6M189.3,749.3h6.6M192.6,746.0v6.6M207.5,746.0h6.6M210.8,742.7v6.6M160.4,752.2h6.6M163.7,748.9v6.6M172.3,754.4h6.6M175.6,751.1v6.6M157.1,775.6h6.6M160.4,772.3v6.6M180.8,778.1h6.6M184.1,774.8v6.6M174.9,787.1h6.6M178.2,783.8v6.6M160.8,837.5h6.6M164.1,834.2v6.6" stroke="#0072BD" stroke-width="1.9" fill="none"/>
<g fill="none" stroke="#77AC30" stroke-width="1.9"><circle cx="179.7" cy="706.9" r="2.85"/><circle cx="189.5" cy="705.4" r="2.85"/><circle cx="193.1" cy="705.9" r="2.85"/><circle cx="202" cy="708" r="2.85"/><circle cx="194.7" cy="716.3" r="2.85"/><circle cx="183" cy="718.5" r="2.85"/><circle cx="186" cy="720" r="2.85"/><circle cx="189.5" cy="721" r="2.85"/><circle cx="184.5" cy="722" r="2.85"/><circle cx="188" cy="718.5" r="2.85"/><circle cx="199.9" cy="727.1" r="2.85"/><circle cx="206.1" cy="726.1" r="2.85"/><circle cx="211.3" cy="729.7" r="2.85"/><circle cx="223.7" cy="704.9" r="2.85"/><circle cx="226.3" cy="703.8" r="2.85"/><circle cx="226.9" cy="714.7" r="2.85"/><circle cx="222.7" cy="719.9" r="2.85"/><circle cx="236.2" cy="731.3" r="2.85"/><circle cx="242.9" cy="725.6" r="2.85"/><circle cx="271" cy="737" r="2.85"/><circle cx="217.8" cy="775.6" r="2.85"/></g>
<ellipse cx="186.6" cy="720.2" rx="5.2" ry="3.6" fill="#77AC30"/>
<path d="M181.7,743.0h6.6M185.0,739.7v6.6M219.7,741.8h6.6M223,738.5v6.6M176.7,758.1h6.6M180,754.8v6.6M224.1,756.7h6.6M227.4,753.4v6.6M184.8,762.6h6.6M188.1,759.3v6.6M198.9,762.6h6.6M202.2,759.3v6.6M188.6,767h6.6M191.9,763.7v6.6M191.5,765.6h6.6M194.8,762.3v6.6M222.6,766.3h6.6M225.9,763.0v6.6M202.6,770.7h6.6M205.9,767.4v6.6M184.8,787h6.6M188.1,783.7v6.6M187.1,794.8h6.6M190.4,791.5v6.6M190.8,795.6h6.6M194.1,792.3v6.6M183.8,800.7h6.6M187.1,797.4v6.6M197.4,799.7h6.6M200.7,796.4v6.6M218.2,782.2h6.6M221.5,778.9v6.6M222.6,781.5h6.6M225.9,778.2v6.6M219.7,785.2h6.6M223,781.9v6.6M232.3,783.4h6.6M235.6,780.1v6.6M207.8,814.8h6.6M211.1,811.5v6.6M214.9,812.1h6.6M218.2,808.8v6.6M240.0,791.9h6.6M243.3,788.6v6.6M267.9,783.7h6.6M271.2,780.4v6.6" stroke="#77AC30" stroke-width="1.9" fill="none"/>
<g fill="none" stroke="#D95319" stroke-width="1.9"><circle cx="210.8" cy="710.6" r="2.85"/><circle cx="204" cy="716.8" r="2.85"/><circle cx="195.7" cy="722.8" r="2.85"/><circle cx="204.6" cy="729.7" r="2.85"/><circle cx="226.9" cy="710" r="2.85"/><circle cx="219.6" cy="718.3" r="2.85"/><circle cx="236.2" cy="722.5" r="2.85"/><circle cx="242.4" cy="702.8" r="2.85"/><circle cx="242.4" cy="710.6" r="2.85"/><circle cx="247.5" cy="711.5" r="2.85"/><circle cx="276.7" cy="710" r="2.85"/><circle cx="299.6" cy="711" r="2.85"/><circle cx="270" cy="736.7" r="2.85"/><circle cx="265.6" cy="749.3" r="2.85"/><circle cx="276.7" cy="768.5" r="2.85"/><circle cx="319.6" cy="742.9" r="2.85"/><circle cx="328.3" cy="752.1" r="2.85"/><circle cx="336" cy="758.2" r="2.85"/><circle cx="354.1" cy="749.9" r="2.85"/><circle cx="361.2" cy="756.4" r="2.85"/></g>
<path d="M223.6,728h6.6M226.9,724.7v6.6M232.9,737.5h6.6M236.2,734.2v6.6M244.2,757.4h6.6M247.5,754.1v6.6M239.3,766h6.6M242.6,762.7v6.6M273.4,758.6h6.6M276.7,755.3v6.6M296.3,765.1h6.6M299.6,761.8v6.6M262.0,778.4h6.6M265.3,775.1v6.6M239.7,785.8h6.6M243,782.5v6.6M192.3,780.4h6.6M195.6,777.1v6.6M200.7,781.5h6.6M204,778.2v6.6M216.7,789.6h6.6M220,786.3v6.6M201.1,810.1h6.6M204.4,806.8v6.6M207.5,807.1h6.6M210.8,803.8v6.6M316.3,807.1h6.6M319.6,803.8v6.6M325.4,798.2h6.6M328.7,794.9v6.6M273.4,834.5h6.6M276.7,831.2v6.6M266.7,854.8h6.6M270,851.5v6.6M350.8,784.9h6.6M354.1,781.6v6.6M357.6,789.7h6.6M360.9,786.4v6.6M332.7,792h6.6M336,788.7v6.6M357.8,855.6h6.6M361.1,852.3v6.6" stroke="#D95319" stroke-width="1.9" fill="none"/>
<g fill="none" stroke="#A2142F" stroke-width="1.9"><circle cx="348.1" cy="762.1" r="2.85"/><circle cx="357.3" cy="767.1" r="2.85"/><circle cx="371.9" cy="770.1" r="2.85"/><circle cx="380.4" cy="772.4" r="2.85"/><circle cx="382.6" cy="775.5" r="2.85"/><circle cx="388.4" cy="782.2" r="2.85"/><circle cx="400.9" cy="780.4" r="2.85"/><circle cx="412.1" cy="773" r="2.85"/><circle cx="415.1" cy="774.2" r="2.85"/><circle cx="417.8" cy="777.2" r="2.85"/><circle cx="422.8" cy="765.9" r="2.85"/><circle cx="413.3" cy="790.2" r="2.85"/><circle cx="436" cy="777.8" r="2.85"/><circle cx="446.4" cy="768.4" r="2.85"/><circle cx="452.2" cy="782.2" r="2.85"/><circle cx="451.3" cy="792" r="2.85"/><circle cx="478" cy="786.7" r="2.85"/><circle cx="477.6" cy="796.8" r="2.85"/><circle cx="503.2" cy="789.7" r="2.85"/><circle cx="579.5" cy="791.7" r="2.85"/></g>
<path d="M368.6,829h6.6M371.9,825.7v6.6M344.7,842.5h6.6M348,839.2v6.6M354.0,860.2h6.6M357.3,856.9v6.6M378.9,861.8h6.6M382.2,858.5v6.6M385.6,851.9h6.6M388.9,848.6v6.6M397.6,845.2h6.6M400.9,841.9v6.6M410.0,846.7h6.6M413.3,843.4v6.6M412.1,835.3h6.6M415.4,832.0v6.6M415.2,836.3h6.6M418.5,833.0v6.6M419.4,839.4h6.6M422.7,836.1v6.6M432.4,851.4h6.6M435.7,848.1v6.6M448.1,843.3h6.6M451.4,840.0v6.6M449.1,864.5h6.6M452.4,861.2v6.6M442.8,872.6h6.6M446.1,869.3v6.6M377.3,883.4h6.6M380.6,880.1v6.6M474.7,845.2h6.6M478,841.9v6.6M474.1,859.7h6.6M477.4,856.4v6.6M500.2,876.3h6.6M503.5,873.0v6.6M575.7,861.8h6.6M579,858.5v6.6" stroke="#A2142F" stroke-width="1.9" fill="none"/>
<circle cx="565.6" cy="618.4" r="2.85" fill="none" stroke="#0072BD" stroke-width="1.9"/>
<text transform="translate(572.26,624.06) scale(1.053,1)" font-size="14.14" font-weight="bold">IMR5 15 nN</text>
<path d="M562.8,637.1h5.6M565.6,634.3v5.6" stroke="#0072BD" stroke-width="1.9"/>
<text transform="translate(572.26,642.76) scale(1.053,1)" font-size="14.14" font-weight="bold">IMR5 1 nN</text>
<circle cx="565.6" cy="655.8" r="2.85" fill="none" stroke="#77AC30" stroke-width="1.9"/>
<text transform="translate(572.26,661.46) scale(1.053,1)" font-size="14.14" font-weight="bold">HEK 15 nN</text>
<path d="M562.8,674.5h5.6M565.6,671.7v5.6" stroke="#77AC30" stroke-width="1.9"/>
<text transform="translate(572.26,680.16) scale(1.053,1)" font-size="14.14" font-weight="bold">HEK 1 nN</text>
<circle cx="565.6" cy="693.2" r="2.85" fill="none" stroke="#D95319" stroke-width="1.9"/>
<text transform="translate(572.26,698.86) scale(1.053,1)" font-size="14.14" font-weight="bold">HeLa 15 nN</text>
<path d="M562.8,711.9h5.6M565.6,709.1v5.6" stroke="#D95319" stroke-width="1.9"/>
<text transform="translate(572.26,717.56) scale(1.053,1)" font-size="14.14" font-weight="bold">HeLa 1 nN</text>
<circle cx="565.6" cy="730.6" r="2.85" fill="none" stroke="#A2142F" stroke-width="1.9"/>
<text transform="translate(572.26,736.40) scale(1.053,1)" font-size="14.14" font-weight="bold">MCF7 15 nN</text>
<path d="M562.8,749.3h5.6M565.6,746.5v5.6" stroke="#A2142F" stroke-width="1.9"/>
<text transform="translate(572.26,755.10) scale(1.053,1)" font-size="14.14" font-weight="bold">MCF7 1 nN</text>
<text transform="translate(6.20,980.70) scale(1.060,1)" font-size="23.42" font-weight="bold">f</text>
<path d="M95.9,982.2V1112.6H665" stroke="#383838" stroke-width="1.3" fill="none"/>
<path d="M95.9,1112.6h4.5" stroke="#383838" stroke-width="1.3"/>
<text transform="translate(82.55,1119.45) scale(1.051,1)" font-size="15.21" font-weight="bold">0</text>
<path d="M95.9,1047.6h4.5" stroke="#383838" stroke-width="1.3"/>
<text transform="translate(68.96,1054.50) scale(1.051,1)" font-size="15.21" font-weight="bold">0.5</text>
<path d="M95.9,982.7h4.5" stroke="#383838" stroke-width="1.3"/>
<text transform="translate(82.23,989.40) scale(1.051,1)" font-size="15.21" font-weight="bold">1</text>
<rect x="142.3" y="1090.7" width="10" height="21.3" fill="#0072BD"/>
<rect x="155.3" y="1084.8" width="10" height="27.2" fill="#77AC30"/>
<rect x="168.3" y="1084.5" width="10" height="27.5" fill="#D95319"/>
<rect x="181.3" y="1070.1" width="10" height="41.9" fill="#A2142F"/>
<rect x="166.2" y="1108.1" width="1.3" height="4" fill="#8a8a8a"/>
<text transform="translate(149.89,1132.65) scale(1.078,1)" font-size="14.86" font-weight="bold">1 nN</text>
<rect x="213.5" y="1087.6" width="10" height="24.4" fill="#0072BD"/>
<rect x="226.5" y="1082.3" width="10" height="29.7" fill="#77AC30"/>
<rect x="239.5" y="1083.5" width="10" height="28.5" fill="#D95319"/>
<rect x="252.5" y="1076.4" width="10" height="35.6" fill="#A2142F"/>
<rect x="237.4" y="1108.1" width="1.3" height="4" fill="#8a8a8a"/>
<text transform="translate(221.42,1132.65) scale(1.078,1)" font-size="14.86" font-weight="bold">4 nN</text>
<rect x="284.7" y="1082.9" width="10" height="29.1" fill="#0072BD"/>
<rect x="297.7" y="1077.3" width="10" height="34.7" fill="#77AC30"/>
<rect x="310.7" y="1081.0" width="10" height="31.0" fill="#D95319"/>
<rect x="323.7" y="1082.0" width="10" height="30.0" fill="#A2142F"/>
<rect x="308.6" y="1108.1" width="1.3" height="4" fill="#8a8a8a"/>
<text transform="translate(287.89,1132.65) scale(1.078,1)" font-size="14.86" font-weight="bold">15 nN</text>
<rect x="427.1" y="1024.3" width="10" height="87.7" fill="#0072BD"/>
<rect x="440.1" y="1038.0" width="10" height="74.0" fill="#77AC30"/>
<rect x="453.1" y="1034.6" width="10" height="77.4" fill="#D95319"/>
<rect x="466.1" y="1034.9" width="10" height="77.1" fill="#A2142F"/>
<rect x="451.0" y="1108.1" width="1.3" height="4" fill="#8a8a8a"/>
<text transform="translate(434.69,1132.65) scale(1.078,1)" font-size="14.86" font-weight="bold">1 nN</text>
<rect x="498.3" y="1056.0" width="10" height="56.0" fill="#0072BD"/>
<rect x="511.3" y="1051.7" width="10" height="60.3" fill="#77AC30"/>
<rect x="524.3" y="1053.2" width="10" height="58.8" fill="#D95319"/>
<rect x="537.3" y="1048.9" width="10" height="63.1" fill="#A2142F"/>
<rect x="522.2" y="1108.1" width="1.3" height="4" fill="#8a8a8a"/>
<text transform="translate(506.22,1132.65) scale(1.078,1)" font-size="14.86" font-weight="bold">4 nN</text>
<rect x="569.5" y="1067.6" width="10" height="44.4" fill="#0072BD"/>
<rect x="582.5" y="1055.7" width="10" height="56.3" fill="#77AC30"/>
<rect x="595.5" y="1063.5" width="10" height="48.5" fill="#D95319"/>
<rect x="608.5" y="1060.4" width="10" height="51.6" fill="#A2142F"/>
<rect x="593.4" y="1108.1" width="1.3" height="4" fill="#8a8a8a"/>
<text transform="translate(572.69,1132.65) scale(1.078,1)" font-size="14.86" font-weight="bold">15 nN</text>
<rect x="102.8" y="991.2" width="11.2" height="13.4" fill="#0072BD"/>
<text transform="translate(114.54,1003.84) scale(0.976,1)" font-size="15.57" font-weight="bold">IMR5</text>
<rect x="152.6" y="991.2" width="11.2" height="13.4" fill="#77AC30"/>
<text transform="translate(164.14,1003.84) scale(0.976,1)" font-size="15.57" font-weight="bold">HEK</text>
<rect x="198.4" y="991.2" width="11.2" height="13.4" fill="#D95319"/>
<text transform="translate(209.84,1003.84) scale(0.976,1)" font-size="15.57" font-weight="bold">HeLa</text>
<rect x="248.6" y="991.2" width="11.2" height="13.4" fill="#A2142F"/>
<text transform="translate(260.14,1004.00) scale(0.976,1)" font-size="15.57" font-weight="bold">MCF7</text>
<path d="M141.9,1067.0H329.7" stroke="#262626" stroke-width="1.4"/>
<path d="M147.4,1064.4L141.70000000000002,1067.0L147.4,1069.6M324.2,1064.4L329.9,1067.0L324.2,1069.6" stroke="#262626" stroke-width="1.4" fill="none"/>
<text transform="translate(203.86,1059.75) scale(1.055,1)" font-size="15.07" font-weight="bold">&lt; 100 Hz</text>
<path d="M426.6,1019.9H614.4" stroke="#262626" stroke-width="1.4"/>
<path d="M432.1,1017.3L426.40000000000003,1019.9L432.1,1022.5M608.9,1017.3L614.6,1019.9L608.9,1022.5" stroke="#262626" stroke-width="1.4" fill="none"/>
<text transform="translate(487.86,1013.55) scale(1.033,1)" font-size="15.49" font-weight="bold">&gt; 100 Hz</text>
<text transform="translate(62.71,1072.03) rotate(-90) scale(1.011,1)" font-size="17.55" font-weight="bold">Slope</text>
<text transform="translate(4.41,1156.98) scale(1.009,1)" font-size="22.00" font-weight="bold">g</text>
<path d="M95.9,1162.2V1292.6H665" stroke="#383838" stroke-width="1.3" fill="none"/>
<path d="M95.9,1292.6h4.5" stroke="#383838" stroke-width="1.3"/>
<text transform="translate(82.55,1299.45) scale(1.051,1)" font-size="15.21" font-weight="bold">0</text>
<path d="M95.9,1227.6h4.5" stroke="#383838" stroke-width="1.3"/>
<text transform="translate(68.96,1234.50) scale(1.051,1)" font-size="15.21" font-weight="bold">0.5</text>
<path d="M95.9,1162.7h4.5" stroke="#383838" stroke-width="1.3"/>
<text transform="translate(82.23,1169.40) scale(1.051,1)" font-size="15.21" font-weight="bold">1</text>
<rect x="142.3" y="1266.0" width="10" height="26.0" fill="#0072BD"/>
<rect x="155.3" y="1258.3" width="10" height="33.7" fill="#77AC30"/>
<rect x="168.3" y="1258.3" width="10" height="33.7" fill="#D95319"/>
<rect x="181.3" y="1253.9" width="10" height="38.1" fill="#A2142F"/>
<rect x="166.2" y="1288.1" width="1.3" height="4" fill="#8a8a8a"/>
<text transform="translate(149.89,1312.65) scale(1.078,1)" font-size="14.86" font-weight="bold">1 nN</text>
<rect x="213.5" y="1265.7" width="10" height="26.3" fill="#0072BD"/>
<rect x="226.5" y="1258.9" width="10" height="33.1" fill="#77AC30"/>
<rect x="239.5" y="1257.3" width="10" height="34.7" fill="#D95319"/>
<rect x="252.5" y="1252.4" width="10" height="39.6" fill="#A2142F"/>
<rect x="237.4" y="1288.1" width="1.3" height="4" fill="#8a8a8a"/>
<text transform="translate(221.42,1312.65) scale(1.078,1)" font-size="14.86" font-weight="bold">4 nN</text>
<rect x="284.7" y="1266.4" width="10" height="25.6" fill="#0072BD"/>
<rect x="297.7" y="1258.6" width="10" height="33.4" fill="#77AC30"/>
<rect x="310.7" y="1260.4" width="10" height="31.6" fill="#D95319"/>
<rect x="323.7" y="1258.0" width="10" height="34.0" fill="#A2142F"/>
<rect x="308.6" y="1288.1" width="1.3" height="4" fill="#8a8a8a"/>
<text transform="translate(287.89,1312.65) scale(1.078,1)" font-size="14.86" font-weight="bold">15 nN</text>
<rect x="427.1" y="1213.1" width="10" height="78.9" fill="#0072BD"/>
<rect x="440.1" y="1171.2" width="10" height="120.8" fill="#77AC30"/>
<rect x="453.1" y="1202.1" width="10" height="89.9" fill="#D95319"/>
<rect x="466.1" y="1179.3" width="10" height="112.7" fill="#A2142F"/>
<rect x="451.0" y="1288.1" width="1.3" height="4" fill="#8a8a8a"/>
<text transform="translate(434.69,1312.65) scale(1.078,1)" font-size="14.86" font-weight="bold">1 nN</text>
<rect x="498.3" y="1253.9" width="10" height="38.1" fill="#0072BD"/>
<rect x="511.3" y="1220.9" width="10" height="71.1" fill="#77AC30"/>
<rect x="524.3" y="1234.3" width="10" height="57.7" fill="#D95319"/>
<rect x="537.3" y="1215.2" width="10" height="76.8" fill="#A2142F"/>
<rect x="522.2" y="1288.1" width="1.3" height="4" fill="#8a8a8a"/>
<text transform="translate(506.22,1312.65) scale(1.078,1)" font-size="14.86" font-weight="bold">4 nN</text>
<rect x="569.5" y="1263.3" width="10" height="28.7" fill="#0072BD"/>
<rect x="582.5" y="1240.9" width="10" height="51.1" fill="#77AC30"/>
<rect x="595.5" y="1251.9" width="10" height="40.1" fill="#D95319"/>
<rect x="608.5" y="1231.9" width="10" height="60.1" fill="#A2142F"/>
<rect x="593.4" y="1288.1" width="1.3" height="4" fill="#8a8a8a"/>
<text transform="translate(572.69,1312.65) scale(1.078,1)" font-size="14.86" font-weight="bold">15 nN</text>
<rect x="102.8" y="1171.2" width="11.2" height="13.4" fill="#0072BD"/>
<text transform="translate(114.54,1183.84) scale(0.976,1)" font-size="15.57" font-weight="bold">IMR5</text>
<rect x="152.6" y="1171.2" width="11.2" height="13.4" fill="#77AC30"/>
<text transform="translate(164.14,1183.84) scale(0.976,1)" font-size="15.57" font-weight="bold">HEK</text>
<rect x="198.4" y="1171.2" width="11.2" height="13.4" fill="#D95319"/>
<text transform="translate(209.84,1183.84) scale(0.976,1)" font-size="15.57" font-weight="bold">HeLa</text>
<rect x="248.6" y="1171.2" width="11.2" height="13.4" fill="#A2142F"/>
<text transform="translate(260.14,1184.00) scale(0.976,1)" font-size="15.57" font-weight="bold">MCF7</text>
<path d="M141.9,1249.4H329.7" stroke="#262626" stroke-width="1.4"/>
<path d="M147.4,1246.8000000000002L141.70000000000002,1249.4L147.4,1252.0M324.2,1246.8000000000002L329.9,1249.4L324.2,1252.0" stroke="#262626" stroke-width="1.4" fill="none"/>
<text transform="translate(219.75,1242.60) scale(1.023,1)" font-size="15.51" font-weight="bold">1 Hz</text>
<path d="M426.3,1166.6H614.1" stroke="#262626" stroke-width="1.4"/>
<path d="M431.8,1164.0L426.1,1166.6L431.8,1169.1999999999998M608.6,1164.0L614.3000000000001,1166.6L608.6,1169.1999999999998" stroke="#262626" stroke-width="1.4" fill="none"/>
<text transform="translate(495.27,1185.34) scale(0.967,1)" font-size="16.20" font-weight="bold">700 Hz</text>
<text transform="translate(62.75,1313.37) rotate(-90) scale(1.069,1)" font-size="16.91" font-weight="bold">Loss tangent (E&quot;/E')</text>
</svg>
</body></html>
